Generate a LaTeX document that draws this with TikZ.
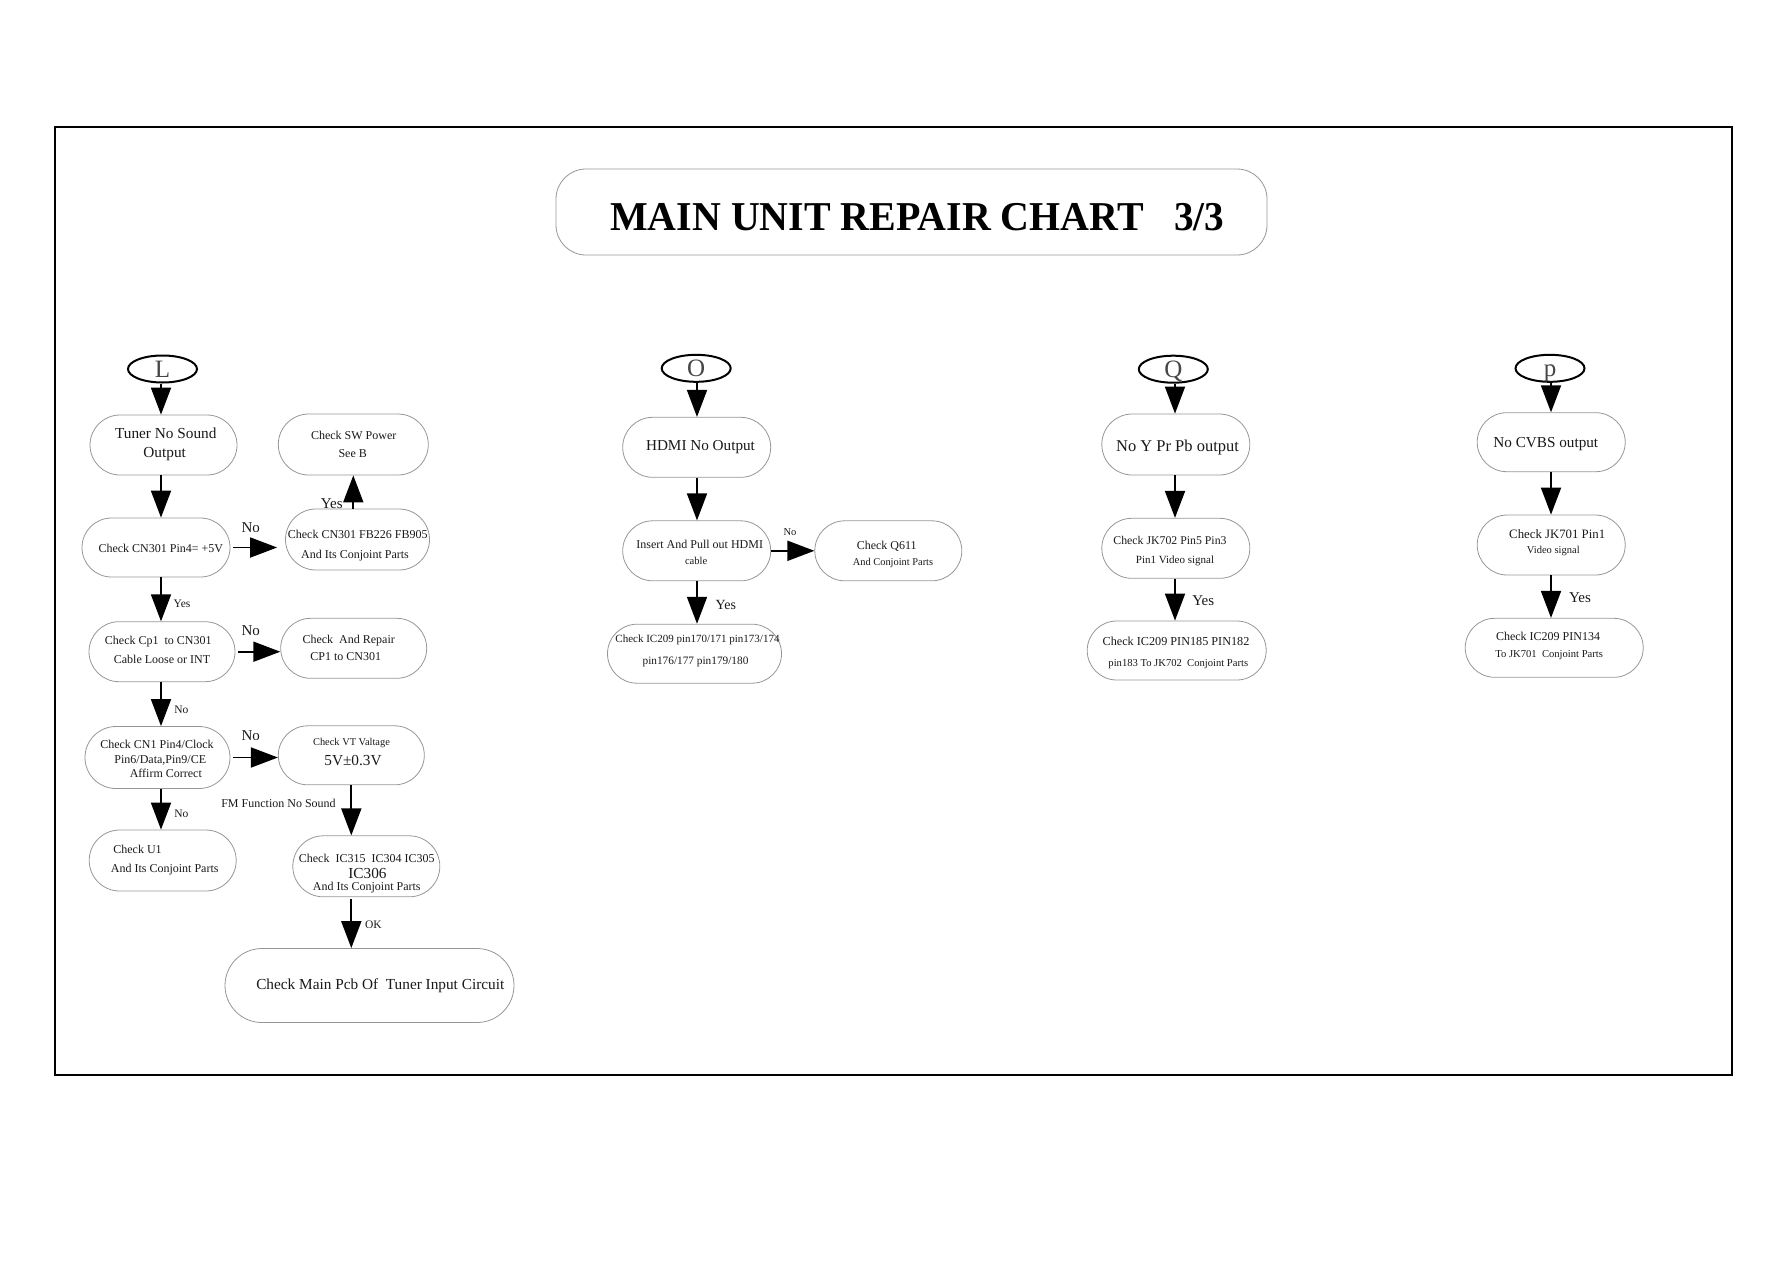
\documentclass[tikz,border=0pt]{standalone}
\usepackage{fontspec}
\usepackage{graphicx}
\setmainfont{Liberation Serif}
\usetikzlibrary{arrows.meta,shapes.misc,shapes.geometric}
\definecolor{bgray}{RGB}{150,150,150}
\definecolor{lgray}{RGB}{70,70,70}
\definecolor{ink}{RGB}{25,25,25}
\newcommand\tl[5]{\node[txt,font=\fontsize{#4}{#4}\selectfont] (#1) at (#2,{#3+0.33*#4}) {#5};}
\newcommand\bx[5]{\node[box,minimum width=#4pt,minimum height=#5pt] (#1) at (#2,#3) {};}
\newcommand\el[4]{\node[ell] (#1) at (#2,#3) {#4};}
\begin{document}
\begin{tikzpicture}[x=1pt,y=-1pt,
  txt/.style={anchor=base,inner sep=0pt,text=ink},
  box/.style={rounded rectangle,draw=bgray,line width=0.8pt,inner sep=0pt},
  ell/.style={ellipse,draw=black,line width=2pt,minimum width=69pt,minimum height=27pt,inner sep=0pt,
     text height=16pt,text depth=0pt,text=lgray,font=\fontsize{25}{25}\selectfont},
  arr/.style={line width=1.8pt,-{Triangle[length=27pt,width=20pt]}}]
\useasboundingbox (0,0) rectangle (1787,1263);
\draw[line width=1.2pt] (55,127) rectangle (1732,1075);
% title
\node[draw=bgray,line width=0.8pt,rounded corners=30pt,minimum width=711pt,minimum height=86pt,inner sep=0pt] (title) at (911.5,212) {};
\node[anchor=base west,inner sep=0pt,font=\fontsize{41}{41}\selectfont\bfseries] (ttlA) at (610,230) {\scalebox{0.974}[1]{MAIN UNIT REPAIR CHART}};
\node[anchor=base west,inner sep=0pt,font=\fontsize{41}{41}\selectfont\bfseries] (ttlB) at (1174,230) {\scalebox{0.956}[1]{3/3}};
% column coordinates
\coordinate (colL) at (161,0);
\coordinate (colO) at (697,0);
\coordinate (colQ) at (1175,0);
\coordinate (colP) at (1551,0);
% ellipses
\el{ellL}{162.5}{369}{L}
\el{ellO}{696.2}{368.3}{O}
\el{ellQ}{1173.3}{369.2}{Q}
\el{ellP}{1550}{368.3}{p}
% boxes
\bx{boxA}{163.5}{445}{147}{60}
\bx{boxB}{156}{547.5}{148}{59}
\bx{boxC}{357.5}{539.5}{144}{61}
\bx{boxD}{353.3}{444.5}{150}{61}
\bx{boxE}{162}{651.7}{146}{60}
\bx{boxF}{353.7}{648.3}{146}{60}
\bx{boxG}{157.5}{757.5}{145}{62}
\bx{boxH}{351.3}{755.3}{146}{59}
\bx{boxI}{162.7}{860.5}{147}{61}
\bx{boxJ}{366.3}{866.3}{147}{61}
\bx{boxK}{369.5}{985.5}{289}{74}
\bx{boxHD}{696.7}{447.3}{148}{60}
\bx{boxIN}{696.7}{550.8}{148}{60}
\bx{boxQ6}{888.3}{550.8}{147}{60}
\bx{boxIC}{694.5}{653.7}{174}{59}
\bx{boxNY}{1175.8}{444.5}{148}{61}
\bx{boxJK2}{1175.8}{548.3}{148}{60}
\bx{boxIC2}{1176.7}{650.5}{179}{59}
\bx{boxCV}{1551.2}{442.2}{148}{59}
\bx{boxJK1}{1551.2}{545}{148}{60}
\bx{boxIC3}{1554.2}{647.8}{178}{59}
% texts L column
\tl{tA1}{165.8}{433.7}{15.3}{Tuner No Sound}
\tl{tA2}{164.7}{452.3}{15.3}{Output}
\tl{tB}{160.8}{548.7}{12}{Check CN301 Pin4= +5V}
\tl{tC1}{357.7}{534.7}{12}{Check CN301 FB226 FB905}
\tl{tC2}{355}{554.5}{12}{And Its Conjoint Parts}
\tl{tD1}{353.7}{435.7}{12}{Check SW Power}
\tl{tD2}{352.7}{454}{12}{See B}
\tl{lNo1}{250.7}{528}{15}{No}
\tl{lYes1}{331.7}{503.3}{15}{Yes}
\tl{lYes2}{182}{604}{11.5}{Yes}
\tl{tE1}{158.3}{640.7}{12}{Check Cp1~ to CN301}
\tl{tE2}{162}{659.5}{12}{Cable Loose or INT}
\tl{lNo2}{250.7}{630.7}{15}{No}
\tl{tF1}{348.7}{639.5}{12}{Check~ And Repair}
\tl{tF2}{345.7}{656.7}{12}{CP1 to CN301}
\tl{lNo3}{181.3}{710}{11.5}{No}
\tl{tG1}{157}{744.5}{12}{Check CN1 Pin4/Clock}
\tl{tG2}{160.3}{759.2}{12}{Pin6/Data,Pin9/CE}
\tl{tG3}{165.8}{773.3}{12}{Affirm Correct}
\tl{lNo4}{250.7}{735.7}{15}{No}
\tl{tH1}{351.5}{742}{10.4}{Check VT Valtage}
\tl{tH2}{353}{760}{15.3}{5V±0.3V}
\tl{lNo5}{181.3}{813.7}{11.5}{No}
\tl{tI1}{137.5}{849.7}{12}{Check U1}
\tl{tI2}{164.7}{868.7}{12}{And Its Conjoint Parts}
\tl{lFM}{278.5}{803.3}{12}{FM Function No Sound}
\tl{tJ1}{366.7}{858.5}{12}{Check~ IC315~ IC304 IC305}
\tl{tJ2}{367.5}{873.7}{15.3}{IC306}
\tl{tJ3}{366.8}{886.3}{12}{And Its Conjoint Parts}
\tl{lOK}{373.3}{924.2}{11.5}{OK}
\tl{tK}{380.3}{984.8}{15.3}{Check Main Pcb Of~ Tuner Input Circuit}
% texts O column
\tl{tHD}{700.5}{445.5}{15.2}{HDMI No Output}
\tl{tIN1}{699.7}{544.2}{12}{Insert And Pull out HDMI}
\tl{tIN2}{696.2}{561.3}{10.6}{cable}
\tl{lNo6}{790}{532.5}{10.5}{No}
\tl{tQ61}{886.7}{545.5}{12}{Check Q611}
\tl{tQ62}{893}{562.3}{10.4}{And Conjoint Parts}
\tl{lYes3}{725.8}{604.7}{14}{Yes}
\tl{tIC1}{697.5}{638.8}{11}{Check IC209 pin170/171 pin173/174}
\tl{tIC2}{695.5}{660.8}{11.3}{pin176/177 pin179/180}
% texts Q column
\tl{tNY}{1177.5}{445.8}{16.5}{No Y Pr Pb output}
\tl{tJK21}{1170}{540.8}{11.8}{Check JK702 Pin5 Pin3}
\tl{tJK22}{1175}{560}{11}{Pin1 Video signal}
\tl{lYes4}{1203.3}{601}{15}{Yes}
\tl{tIC21}{1176}{641.7}{12.2}{Check IC209 PIN185 PIN182}
\tl{tIC22}{1178.3}{663.3}{10.6}{pin183 To JK702~ Conjoint Parts}
% texts p column
\tl{tCV}{1545.8}{442}{15.2}{No CVBS output}
\tl{tJK11}{1557.2}{533.8}{12.8}{Check JK701 Pin1}
\tl{tJK12}{1553.3}{550.3}{10.5}{Video signal}
\tl{lYes5}{1580}{598}{15}{Yes}
\tl{tIC31}{1548}{636.8}{12}{Check IC209 PIN134}
\tl{tIC32}{1549.2}{653.7}{10.6}{To JK701~ Conjoint Parts}
% arrows L column
\draw[arr] (colL |- ellL.south) -- (colL |- boxA.north);
\draw[arr] (colL |- boxA.south) -- (colL |- boxB.north);
\draw[arr] (colL |- boxB.south) -- (colL |- boxE.north);
\draw[arr] (colL |- boxE.south) -- (colL |- boxG.north);
\draw[arr] (colL |- boxG.south) -- (colL |- boxI.north);
\draw[arr,shorten >=8pt] ([xshift=3pt]boxB.east) -- (boxB.east -| boxC.west);
\draw[arr] (boxD.south |- boxC.north) -- (boxD.south);
\draw[arr] ([xshift=3pt]boxE.east) -- (boxE.east -| boxF.west);
\draw[arr] ([xshift=3pt]boxG.east) -- (boxG.east -| boxH.west);
\draw[arr] (boxH.south) -- (boxH.south |- boxJ.north);
\draw[arr] ([yshift=-2pt]boxH.south |- boxJ.south) -- (boxH.south |- boxK.north);
% arrows O column
\draw[arr] (colO |- ellO.south) -- (colO |- boxHD.north);
\draw[arr] (colO |- boxHD.south) -- (colO |- boxIN.north);
\draw[arr] (boxIN.east) -- (boxIN.east -| boxQ6.west);
\draw[arr] (colO |- boxIN.south) -- (colO |- boxIC.north);
% arrows Q column
\draw[arr] (colQ |- ellQ.south) -- (colQ |- boxNY.north);
\draw[arr] (colQ |- boxNY.south) -- (colQ |- boxJK2.north);
\draw[arr] (colQ |- boxJK2.south) -- (colQ |- boxIC2.north);
% arrows p column
\draw[arr] (colP |- ellP.south) -- (colP |- boxCV.north);
\draw[arr] (colP |- boxCV.south) -- (colP |- boxJK1.north);
\draw[arr] (colP |- boxJK1.south) -- (colP |- boxIC3.north);
\end{tikzpicture}
\end{document}
